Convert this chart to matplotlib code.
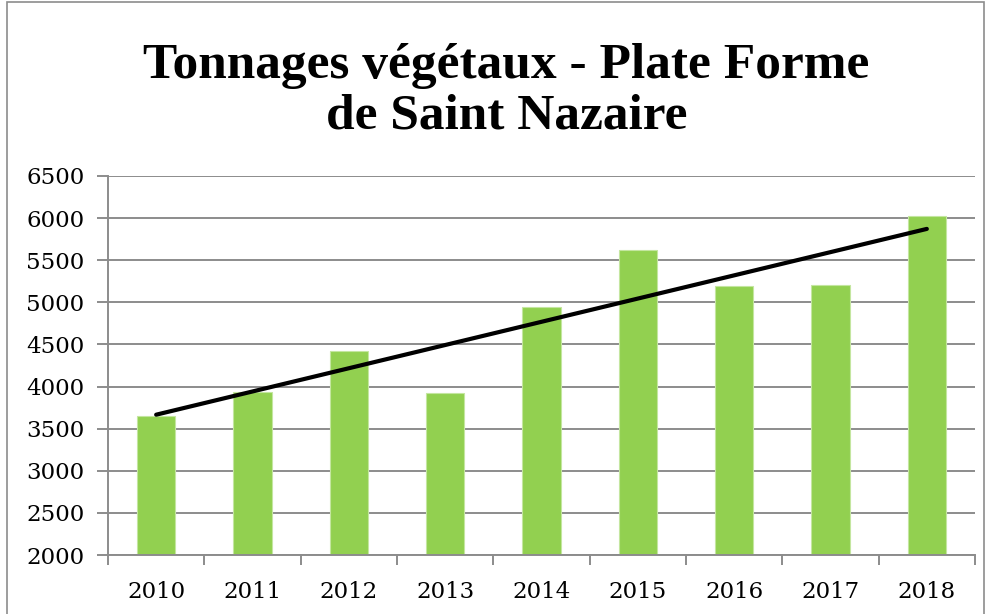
import numpy as np
import matplotlib.pyplot as plt
from matplotlib.patches import Rectangle

# Données
years = ['2010', '2011', '2012', '2013', '2014', '2015', '2016', '2017', '2018']
tonnages = [3650, 3940, 4420, 3920, 4945, 5625, 5190, 5200, 6030]

fig = plt.figure(figsize=(9.91, 6.14), dpi=100)
ax = fig.add_axes([108 / 991, 1 - 555 / 614, 867 / 991, 379 / 614])

x = np.arange(len(years))
ax.bar(x, tonnages, width=0.4, color='#92D050', edgecolor='#C4E6A0', linewidth=0.8, zorder=2)

# courbe de tendance linéaire
a, b = np.polyfit(x, tonnages, 1)
ax.plot(x, a * x + b, color='black', linewidth=3, solid_capstyle='round', zorder=3)

ax.set_xlim(-0.5, len(years) - 0.5)
ax.set_ylim(2000, 6500)
ax.set_yticks(range(2000, 6501, 500))
ax.yaxis.grid(True, color='#8c8c8c', linewidth=1.4, zorder=0)
ax.set_axisbelow(True)

ax.set_xticks(x)
ax.set_xticklabels(years)
ax.set_xticks(np.arange(-0.5, len(years)), minor=True)
ax.tick_params(axis='x', which='major', length=0, pad=19)
ax.tick_params(axis='x', which='minor', length=7, width=1.4, color='#8c8c8c')
ax.tick_params(axis='y', length=8, width=1.4, color='#8c8c8c', pad=9)
for lab in ax.get_xticklabels() + ax.get_yticklabels():
    lab.set_family('DejaVu Serif')
    lab.set_fontsize(16.5)

for s in ['top', 'right']:
    ax.spines[s].set_visible(False)
for s in ['left', 'bottom']:
    ax.spines[s].set_color('#8c8c8c')
    ax.spines[s].set_linewidth(1.4)

fig.text(0.511, 1 - 91 / 614, 'Tonnages végétaux - Plate Forme\nde Saint Nazaire',
         ha='center', va='center', fontsize=37, fontweight='bold',
         family='Liberation Serif', linespacing=1.13)

# cadre du graphique
fig.patches.append(Rectangle((7 / 991, -0.05), 977 / 991, 1.05 - 2 / 614,
                             transform=fig.transFigure, fill=False,
                             edgecolor='#8c8c8c', linewidth=1.2))

fig.savefig('out.png', dpi=100)
